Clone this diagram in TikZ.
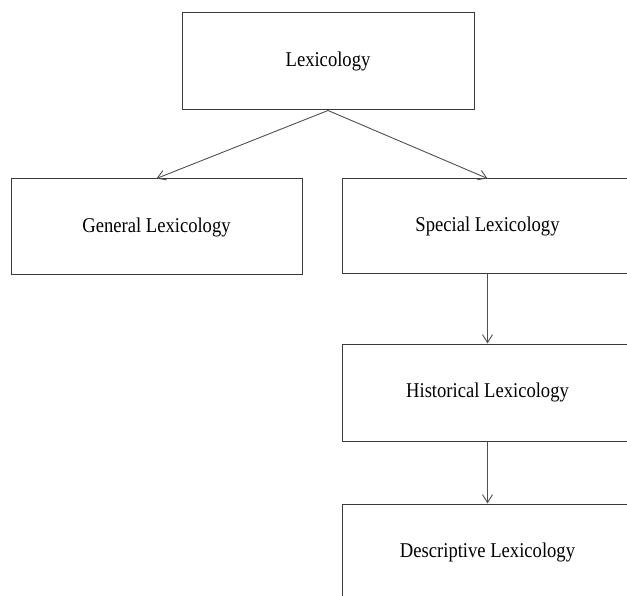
\documentclass[tikz,border=0pt]{standalone}
\usepackage{fontspec}
\setmainfont{Liberation Serif}
\usetikzlibrary{arrows.meta}
\definecolor{boxline}{HTML}{3A3A3A}
\definecolor{arrline}{HTML}{505050}
\newcommand{\lexlab}[1]{\scalebox{1}[1.13]{\fontsize{18.6pt}{22pt}\selectfont #1}}
\tikzset{
  lexbox/.style={draw=boxline, line width=1pt, rectangle, inner sep=0pt, text=black},
  lexarr/.style={draw=arrline, line width=0.9pt, -{Straight Barb[length=8pt,width=10pt]}}
}
\begin{document}
\begin{tikzpicture}[x=1pt,y=-1pt]
\useasboundingbox (0,0) rectangle (627,596);
\clip (0,0) rectangle (627,596);
\node[lexbox, minimum width=292pt, minimum height=97pt] (lex) at (328,61.5) {\lexlab{Lexicology}};
\node[lexbox, minimum width=291pt, minimum height=96pt] (gen) at (156.5,227) {\lexlab{General Lexicology}};
\node[lexbox, minimum width=290pt, minimum height=95pt] (spec) at (487.5,226.5) {\lexlab{Special Lexicology}};
\node[lexbox, minimum width=290pt, minimum height=97pt] (hist) at (487.5,392.5) {\lexlab{Historical Lexicology}};
\node[lexbox, minimum width=290pt, minimum height=96pt] (desc) at (487.5,552) {\lexlab{Descriptive Lexicology}};
\draw[lexarr] (lex.south) -- (gen.north);
\draw[lexarr] (lex.south) -- (spec.north);
\draw[lexarr] (spec.south) -- (hist.north);
\draw[lexarr] (hist.south) -- (desc.north);
\end{tikzpicture}
\end{document}
